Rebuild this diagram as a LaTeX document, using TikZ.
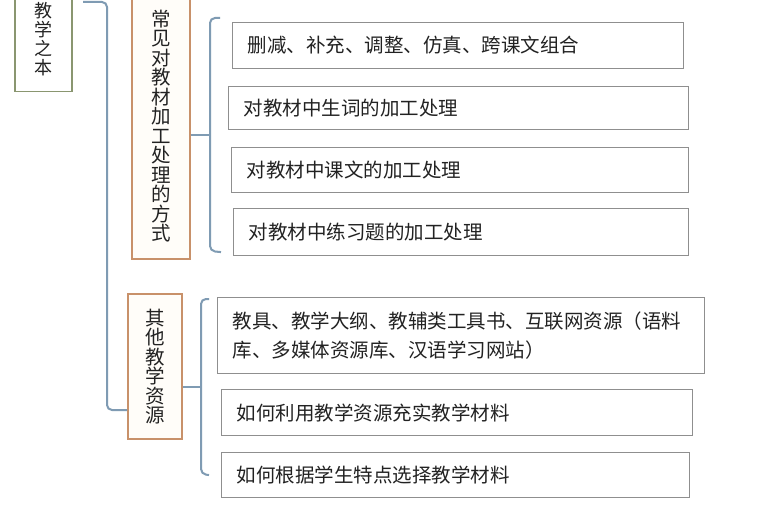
\documentclass[tikz,border=0pt]{standalone}
\usepackage{fontspec}
\setmainfont{Noto Sans CJK SC}
\usetikzlibrary{positioning,calc}
\definecolor{ink}{HTML}{222222}
\definecolor{rootline}{HTML}{8A9670}
\definecolor{catline}{HTML}{C8916A}
\definecolor{catfill}{HTML}{FFFDF9}
\definecolor{leafline}{HTML}{8F8F8F}
\definecolor{linkline}{HTML}{7F9BB3}
\tikzset{
  every node/.style={text=ink},
  rootbox/.style={
    draw=rootline,
    fill=white,
    line width=1.8pt,
    minimum width=57pt,
    inner sep=0pt,
    align=center,
    font=\fontsize{18}{19}\selectfont
  },
  catbox/.style={
    draw=catline,
    fill=catfill,
    line width=1.8pt,
    minimum width=58pt,
    inner sep=0pt,
    align=center
  },
  leaf/.style={
    draw=leafline,
    fill=white,
    line width=1.1pt,
    anchor=north west,
    align=left,
    inner xsep=15pt,
    inner ysep=0pt,
    font=\fontsize{19.5}{29}\selectfont
  },
  link/.style={draw=linkline, line width=2pt, rounded corners=5pt}
}

\begin{document}
\begin{tikzpicture}[x=1pt, y=-1pt]
  \useasboundingbox[fill=white] (0,0) rectangle (766,532);

  % Nodes
  \node[rootbox, minimum height=105pt] (root) at (43.5,39) {教\\学\\之\\本};
  \node[catbox, minimum height=266pt, font=\fontsize{19.5}{19.5}\selectfont] (catA) at (161,126)
    {常\\见\\对\\教\\材\\加\\工\\处\\理\\的\\方\\式};
  \node[catbox, minimum height=145pt, minimum width=54pt, font=\fontsize{19.5}{19.4}\selectfont] (catB) at (155,366.5)
    {\raisebox{10pt}{\parbox{22pt}{\centering 其\\他\\教\\学\\资\\源}}};

  % Leaves
  \node[leaf, text width=421pt, minimum height=46pt] (leafA1) at (232,22) {删减、补充、调整、仿真、跨课文组合};
  \node[leaf, text width=430pt, minimum height=43pt] (leafA2) at (228,86) {对教材中生词的加工处理};
  \node[leaf, text width=427pt, minimum height=45pt] (leafA3) at (231,147) {对教材中课文的加工处理};
  \node[leaf, text width=425pt, minimum height=47pt] (leafA4) at (233,208) {对教材中练习题的加工处理};

  \node[leaf, text width=457pt, minimum height=76pt] (leafB1) at (217,297)
    {教具、教学大纲、教辅类工具书、互联网资源（语料\\库、多媒体资源库、汉语学习网站）};
  \node[leaf, text width=441pt, minimum height=46pt] (leafB2) at (221,389) {如何利用教学资源充实教学材料};
  \node[leaf, text width=438pt, minimum height=45pt] (leafB3) at (221,452) {如何根据学生特点选择教学材料};

  % Brackets
  \coordinate (rootout) at (83,2);
  \draw[link] (rootout) -| (107,410) -- (catB.west |- 0,410);

  \draw[link] ([yshift=-9pt]catA.east) -- (210,135);
  \draw[link] ([shift={(-12pt,4pt)}]leafA1.north west) -- (210,18) -- (210,251) -- ([shift={(-12pt,4pt)}]leafA4.south west);

  \draw[link] ([yshift=-20.5pt]catB.east) -- (201,387);
  \draw[link] ([shift={(-8pt,-2pt)}]leafB1.north west) -- (201,299) -- (201,474) -- (leafB3.west -| 209,0);
\end{tikzpicture}
\end{document}
